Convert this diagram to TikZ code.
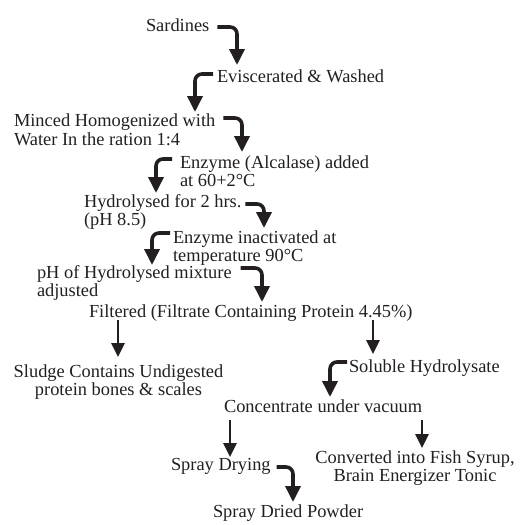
\documentclass[tikz,border=0pt]{standalone}
\usepackage{fontspec}
\setmainfont{Liberation Serif}
\usetikzlibrary{arrows.meta}
\definecolor{ink}{RGB}{35,31,32}

% two-line labels: baseline of the node is the baseline of the first line
\newcommand{\twoL}[2]{\begin{tabular}[t]{@{}l@{}}#1\\#2\end{tabular}}
\newcommand{\twoC}[2]{\begin{tabular}[t]{@{}c@{}}#1\\#2\end{tabular}}

\begin{document}
\begin{tikzpicture}[x=1pt,y=-1pt,
  every node/.style={inner sep=0pt, outer sep=0pt, text=ink,
    font=\fontsize{18.4}{18.7}\selectfont},
  lbl/.style={anchor=base west},
  clbl/.style={anchor=base},
  bent/.style={draw=ink, line width=3.6pt, rounded corners=7pt,
    -{Triangle[length=16pt,width=15pt]}},
  drop/.style={draw=ink, line width=2.6pt,
    -{Triangle[length=14pt,width=13pt]}}]
\useasboundingbox (0,0) rectangle (520,525);

% process steps
\node[lbl] (sard)   at (146,31)  {Sardines};
\node[lbl] (evis)   at (217,82)  {Eviscerated \& Washed};
\node[lbl] (minced) at (14,126.5) {\twoL{Minced Homogenized with}{Water In the ration 1:4}};
\node[lbl] (alc)    at (180,168) {\twoL{Enzyme (Alcalase) added}{at 60+2°C}};
\node[lbl] (hyd)    at (84,207)  {\twoL{Hydrolysed for 2 hrs.}{(pH 8.5)}};
\node[lbl] (inact)  at (173,243) {\twoL{Enzyme inactivated at}{temperature 90°C}};
\node[lbl] (ph)     at (37,278)  {\twoL{pH of Hydrolysed mixture}{adjusted}};
\node[lbl] (filt)   at (89,317)  {Filtered (Filtrate Containing Protein 4.45\%)};
\node[clbl] (sludge) at (118.5,377) {\twoC{Sludge Contains Undigested}{protein bones \& scales}};
\node[lbl] (sol)    at (349,372) {Soluble Hydrolysate};
\node[lbl] (conc)   at (224,412) {Concentrate under vacuum};
\node[lbl] (spray)  at (171,470) {Spray Drying};
\node[clbl] (conv)  at (415,463) {\twoC{Converted into Fish Syrup,}{Brain Energizer Tonic}};
\node[lbl] (powder) at (213,517) {Spray Dried Powder};

% bent connectors
\draw[bent] ([shift={(8,-4)}]sard.base east)    -| ([shift={(20,-17)}]evis.base west);
\draw[bent] ([shift={(-4,-8)}]evis.base west)    -| ([shift={(181,-14.5)}]minced.base west);
\draw[bent] ([shift={(8,-8.5)}]minced.base east) -| ([shift={(62,-16)}]alc.base west);
\draw[bent] ([shift={(-8,-9)}]alc.base west)     -| ([shift={(72,-14)}]hyd.base west);
\draw[bent] ([shift={(4,-3)}]hyd.base east)      -| ([shift={(91,-15)}]inact.base west);
\draw[bent] ([shift={(-3,-10)}]inact.base west)  -| ([shift={(115,-13)}]ph.base west);
\draw[bent] ([shift={(9,-10)}]ph.base east)      -| ([shift={(173,-15)}]filt.base west);
\draw[bent] ([shift={(-2,-10)}]sol.base west)    -| ([shift={(106,-15)}]conc.base west);
\draw[bent] ([shift={(6,-3)}]spray.base east)    -| ([shift={(80,-15)}]powder.base west);

% straight connectors
\draw[drop] ([shift={(29,3)}]filt.base west)  -- ([shift={(-0.5,-20)}]sludge.base);
\draw[drop] ([shift={(284,3)}]filt.base west) -- ([shift={(24,-18)}]sol.base west);
\draw[drop] ([shift={(6,8)}]conc.base west)   -- ([shift={(59,-13)}]spray.base west);
\draw[drop] ([shift={(198,8)}]conc.base west) -- ([shift={(7,-15)}]conv.base);
\end{tikzpicture}
\end{document}
